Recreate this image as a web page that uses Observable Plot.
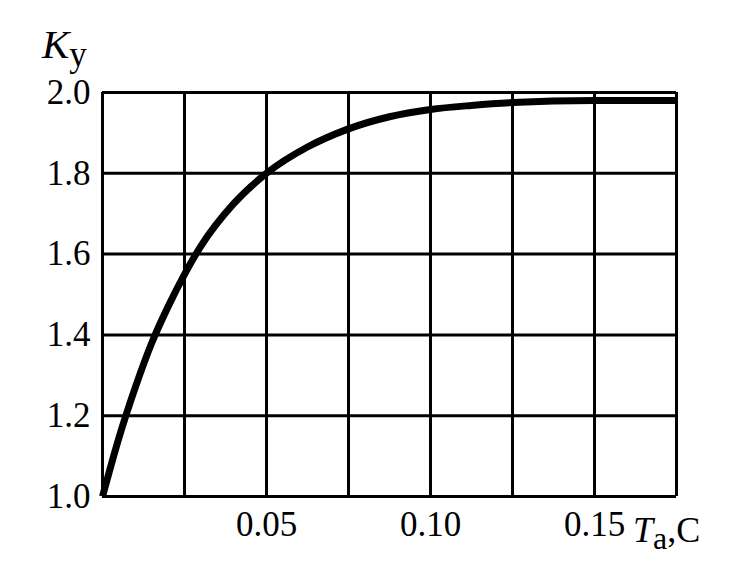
<!DOCTYPE html>
<html>
<head>
<meta charset="utf-8">
<script src="https://cdn.jsdelivr.net/npm/d3@7"></script>
<script src="https://cdn.jsdelivr.net/npm/@observablehq/plot@0.6"></script>
<style>
  html, body { margin: 0; padding: 0; background: #fff; }
</style>
</head>
<body>
<div id="chart"></div>
<script>
// Data: time constant Ta (s) vs. gain Ky
const ta = [0, 0.005, 0.01, 0.015, 0.02, 0.025, 0.03, 0.04, 0.05, 0.0625, 0.075, 0.0875, 0.1, 0.1125, 0.125, 0.15, 0.175];
const ky = [1.0, 1.145, 1.27, 1.38, 1.47, 1.55, 1.62, 1.725, 1.80, 1.865, 1.91, 1.94, 1.958, 1.968, 1.975, 1.98, 1.98];
const xGrid = [0, 0.025, 0.05, 0.075, 0.1, 0.125, 0.15, 0.175];
const yGrid = [1.0, 1.2, 1.4, 1.6, 1.8, 2.0];
const xTickLabels = [0.05, 0.10, 0.15];
const yTickLabels = [1.0, 1.2, 1.4, 1.6, 1.8, 2.0];

const data = ta.map((t, i) => ({t, k: ky[i]}));

const plot = Plot.plot({
  width: 750,
  height: 576,
  marginLeft: 102,
  marginRight: 74,
  marginTop: 92,
  marginBottom: 80,
  style: {fontFamily: "'Liberation Serif', 'DejaVu Serif', serif", fontSize: "35px", color: "#000", background: "#fff"},
  x: {domain: [0, 0.175]},
  y: {domain: [1, 2]},
  marks: [
    Plot.ruleX(xGrid, {stroke: "#000", strokeWidth: 3}),
    Plot.ruleY(yGrid, {stroke: "#000", strokeWidth: 3}),
    Plot.axisX(xTickLabels, {tickSize: 0, tickPadding: 15, tickFormat: d3.format(".2f"), label: null, fontSize: 35}),
    Plot.axisY(yTickLabels, {tickSize: 0, tickPadding: 12, tickFormat: d3.format(".1f"), label: null, fontSize: 35}),
    Plot.line(data, {x: "t", y: "k", stroke: "#000", strokeWidth: 7, curve: "monotone-x", strokeLinecap: "butt"})
  ]
});

document.getElementById("chart").appendChild(plot);

const sx = plot.scale("x");
const sy = plot.scale("y");
const svg = d3.select(plot);

// Axis title T_a,C to the right of the last x tick label
const xt = svg.append("text")
  .attr("x", sx.apply(0.175) - 43)
  .attr("y", sy.apply(1) + 46)
  .attr("text-anchor", "start")
  .attr("font-family", "'Liberation Serif', serif")
  .attr("font-size", 36)
  .attr("fill", "#000");
xt.append("tspan").attr("font-style", "italic").text("T");
xt.append("tspan").attr("font-size", 32).attr("dy", 7).text("a");
xt.append("tspan").attr("dy", -7).text(",C");

// Axis title K_y above the y axis
const yt = svg.append("text")
  .attr("x", sx.apply(0) - 60)
  .attr("y", sy.apply(2) - 34)
  .attr("text-anchor", "start")
  .attr("font-family", "'Liberation Serif', serif")
  .attr("font-size", 41)
  .attr("fill", "#000");
yt.append("tspan").attr("font-style", "italic").text("K");
yt.append("tspan").attr("font-size", 35).attr("dy", 8).text("y");
</script>
</body>
</html>
